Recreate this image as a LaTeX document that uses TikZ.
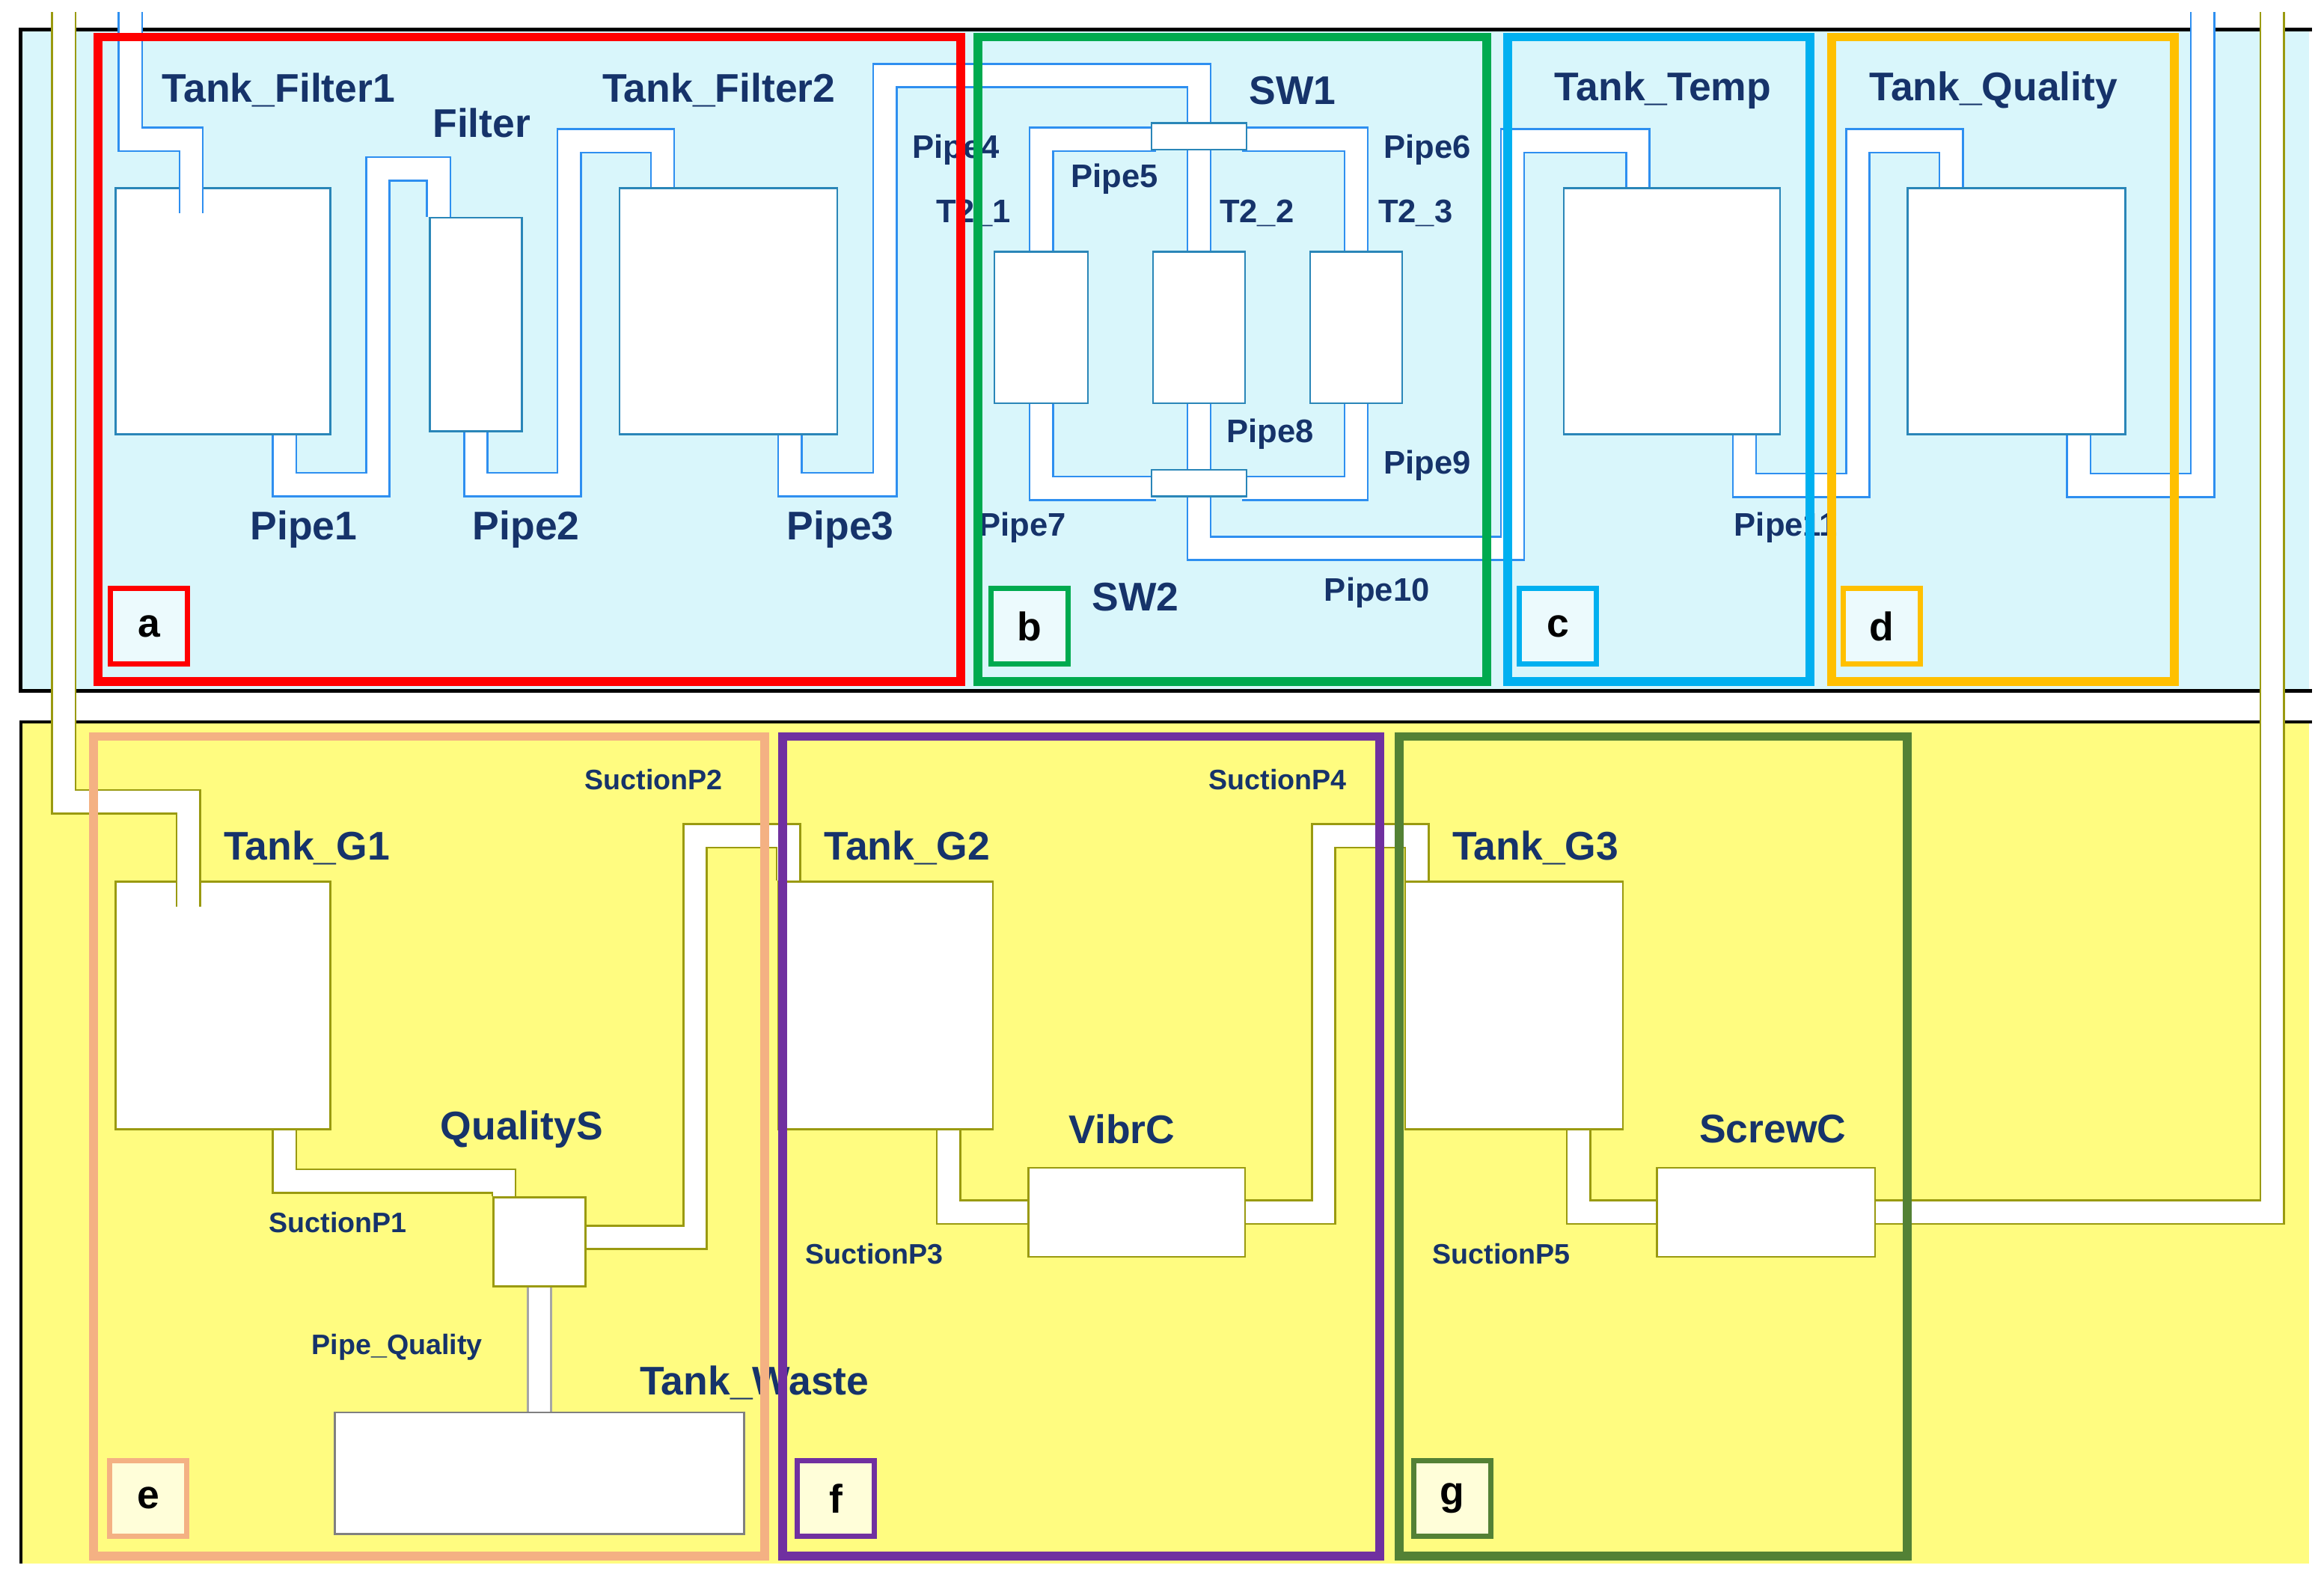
\documentclass[tikz,border=0pt]{standalone}
\usepackage{fontspec}
\setmainfont{Liberation Sans}
\definecolor{cyanbg}{HTML}{D9F6FB}
\definecolor{yelbg}{HTML}{FFFC80}
\definecolor{pipeblue}{HTML}{2E8FF0}
\definecolor{tankblue}{HTML}{2A86B8}
\definecolor{olive}{HTML}{9A9A10}
\definecolor{navy}{HTML}{16336A}
\definecolor{gred}{HTML}{FF0000}
\definecolor{ggreen}{HTML}{00AA4F}
\definecolor{gcyan}{HTML}{00B0F0}
\definecolor{gorange}{HTML}{FFC000}
\definecolor{gsalmon}{HTML}{F4B183}
\definecolor{gpurple}{HTML}{7030A0}
\definecolor{gdkgreen}{HTML}{538135}
\tikzset{
 tank/.style={draw=tankblue, fill=white, line width=1.3, inner sep=0, rectangle},
 ytank/.style={draw=olive, fill=white, line width=1.3, inner sep=0, rectangle},
 bpipe/.style={draw=pipeblue, double=white, double distance=14.5, line width=1.3, line join=miter},
 ypipe/.style={draw=olive, double=white, double distance=14.5, line width=1.3, line join=miter},
 gpipe/.style={draw=gray!70, double=white, double distance=14.5, line width=1.3},
 lab/.style={text=navy, font=\bfseries\fontsize{27}{27}\selectfont, inner sep=0},
 slab/.style={text=navy, font=\bfseries\fontsize{22}{22}\selectfont, inner sep=0},
 tlab/.style={text=navy, font=\bfseries\fontsize{19}{19}\selectfont, inner sep=0},
 grp/.style={line width=6, inner sep=0},
 letter/.style={line width=3.5, minimum width=52, minimum height=51, inner sep=0, font=\bfseries\fontsize{27}{27}\selectfont},
}
\begin{document}
\begin{tikzpicture}[x=1pt,y=-1pt]
\useasboundingbox (0,0) rectangle (1568,1068);
% panels
\fill[white] (0,0) rectangle (1568,1068);
\fill[cyanbg] (14,20) rectangle (1558,466);
\draw[line width=2.5] (1560,20) -- (14,20) -- (14,466) -- (1560,466);
\fill[yelbg] (14,487) rectangle (1558,1055);
\draw[line width=2] (1560,487) -- (14,487) -- (14,1055);
% top tanks
\node[tank, minimum width=145, minimum height=166] (tf1) at (150.5,210) {};
\node[tank, minimum width=62, minimum height=144] (filt) at (321,219) {};
\node[tank, minimum width=147, minimum height=166] (tf2) at (491.5,210) {};
\node[tank, minimum width=63, minimum height=102] (t21) at (702.5,221) {};
\node[tank, minimum width=62, minimum height=102] (t22) at (809,221) {};
\node[tank, minimum width=62, minimum height=102] (t23) at (915,221) {};
\node[tank, minimum width=146, minimum height=166] (ttemp) at (1128,210) {};
\node[tank, minimum width=147, minimum height=166] (tq) at (1360.5,210) {};
% bottom tanks
\node[ytank, minimum width=145, minimum height=167] (g1) at (150.5,678.5) {};
\node[ytank, minimum width=145, minimum height=167] (g2) at (597.5,678.5) {};
\node[ytank, minimum width=147, minimum height=167] (g3) at (1021.5,678.5) {};
\node[ytank, minimum width=62, minimum height=60] (qs) at (364,838) {};
\node[ytank, minimum width=146, minimum height=60] (vib) at (767,818) {};
\node[ytank, minimum width=147, minimum height=60] (scr) at (1191.5,818) {};
\node[draw=gray, fill=white, line width=1.3, minimum width=276, minimum height=82, inner sep=0] (waste) at (364,994) {};
% top pipes
\coordinate (topin) at (88,8);
\coordinate (topout) at (1486,8);
\draw[bpipe] (topin) -- (88,94) -- (129,94) -- (129,144);
\draw[bpipe] (192,0 |- tf1.south) -- (192,327) -- (255,327) -- (255,114) -- (296,114) -- (296,0 |- filt.north);
\draw[bpipe] (321,0 |- filt.south) -- (321,327) -- (384,327) -- (384,95) -- (447,95) -- (447,0 |- tf2.north);
\draw[bpipe] (533,0 |- tf2.south) -- (533,327) -- (597,327) -- (597,51) -- (809,51) -- (809,84);
\draw[bpipe] (780,94) -- (702.5,94) -- (t21.north);
\draw[bpipe] (809,101) -- (t22.north);
\draw[bpipe] (838,94) -- (915,94) -- (t23.north);
\draw[bpipe] (t21.south) -- (702.5,329.5) -- (780,329.5);
\draw[bpipe] (t22.south) -- (809,317);
\draw[bpipe] (t23.south) -- (915,329.5) -- (838,329.5);
\draw[bpipe] (809,335) -- (809,370) -- (1020.5,370) -- (1020.5,95) -- (1105,95) -- (1105,0 |- ttemp.north);
\draw[bpipe] (1177,0 |- ttemp.south) -- (1177,327.5) -- (1253.5,327.5) -- (1253.5,95) -- (1316.5,95) -- (1316.5,0 |- tq.north);
\draw[bpipe] (1402.5,0 |- tq.south) -- (1402.5,327.5) -- (1486,327.5) -- (topout);
\node[tank, minimum width=64, minimum height=18] (sw1) at (809,92) {};
\node[tank, minimum width=64, minimum height=18] (sw2) at (809,326) {};
% bottom pipes
\coordinate (lin) at (43,8);
\coordinate (rin) at (1533,8);
\draw[ypipe] (lin) -- (43,541) -- (127,541) -- (127,612);
\draw[ypipe] (192,0 |- g1.south) -- (192,797) -- (340,797) -- (340,0 |- qs.north);
\draw[ypipe] (qs.east |- 0,835) -- (469,835) -- (469,564) -- (532,564) -- (532,0 |- g2.north);
\draw[ypipe] (640,0 |- g2.south) -- (640,818) -- (vib.west);
\draw[ypipe] (vib.east) -- (893,818) -- (893,564) -- (956,564) -- (956,0 |- g3.north);
\draw[ypipe] (1065,0 |- g3.south) -- (1065,818) -- (scr.west);
\draw[ypipe] (rin) -- (1533,818) -- (scr.east);
\draw[gpipe] (qs.south) -- (waste.north);
% labels
\node[lab] at (188,61) {Tank\_Filter1};
\node[lab] at (325,83) {Filter};
\node[lab] at (485,61) {Tank\_Filter2};
\node[lab] at (205,357) {Pipe1};
\node[lab] at (355,357) {Pipe2};
\node[lab] at (567,357) {Pipe3};
\node[slab] at (645,101) {Pipe4};
\node[slab] at (657,144) {T2\_1};
\node[slab] at (752,121) {Pipe5};
\node[slab] at (848,144) {T2\_2};
\node[slab] at (963,101) {Pipe6};
\node[slab] at (955,144) {T2\_3};
\node[lab] at (872,61) {SW1};
\node[slab] at (857,293) {Pipe8};
\node[slab] at (963,314) {Pipe9};
\node[slab] at (690,356) {Pipe7};
\node[lab] at (766,403) {SW2};
\node[slab] at (929,400) {Pipe10};
\node[lab] at (1122,61) {Tank\_Temp};
\node[lab] at (1345,61) {Tank\_Quality};
\node[slab] at (1205,356) {Pipe11};
\node[tlab] at (441,526) {SuctionP2};
\node[lab] at (207,572) {Tank\_G1};
\node[lab] at (612,572) {Tank\_G2};
\node[tlab] at (862,526) {SuctionP4};
\node[lab] at (1036,572) {Tank\_G3};
\node[lab] at (352,762) {QualityS};
\node[tlab] at (228,825) {SuctionP1};
\node[lab] at (757,762) {VibrC};
\node[lab] at (1196,762) {ScrewC};
\node[tlab] at (590,846) {SuctionP3};
\node[tlab] at (1013,846) {SuctionP5};
\node[tlab] at (268,909) {Pipe\_Quality};
\node[lab] at (509,933) {Tank\_Waste};
% groups
\draw[grp, gred] (66,25) rectangle (648,460);
\draw[grp, ggreen] (660,25) rectangle (1003,460);
\draw[grp, gcyan] (1017,25) rectangle (1221,460);
\draw[grp, gorange] (1236,25) rectangle (1467,460);
\draw[grp, gsalmon] (63,497) rectangle (516,1050);
\draw[grp, gpurple] (528,497) rectangle (931,1050);
\draw[grp, gdkgreen] (944,497) rectangle (1287,1050);
% letters
\node[letter, draw=gred, fill=cyanbg!50] (la) at (100.5,422.5) {a};
\node[letter, draw=ggreen, fill=cyanbg!50] (lb) at (694.5,422.5) {b};
\node[letter, draw=gcyan, fill=cyanbg!50] (lc) at (1051,422.5) {c};
\node[letter, draw=gorange, fill=cyanbg!50] (ld) at (1269.5,422.5) {d};
\node[letter, draw=gsalmon, fill=yelbg!30] (le) at (100,1011) {e};
\node[letter, draw=gpurple, fill=yelbg!30] (lf) at (564,1011) {f};
\node[letter, draw=gdkgreen, fill=yelbg!30] (lg) at (980,1011) {g};
\end{tikzpicture}
\end{document}
